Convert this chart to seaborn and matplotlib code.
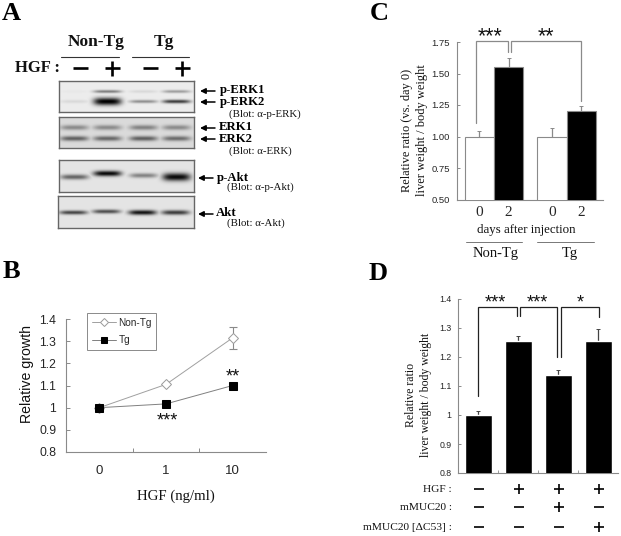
"""Four panel figure: western blots, growth curve and liver weight bars."""

import matplotlib

matplotlib.use("Agg")
import matplotlib.pyplot as plt
import numpy as np
import pandas as pd
import seaborn as sns

W, H = 621, 536
SERIF = "Liberation Serif"
SANS = "Liberation Sans"
GREY = "#8a8a8a"

# panel A: band darkness per lane, 0 = no band, 1 = black
lane_labels = ["-", "+", "-", "+"]
perk1 = [0.02, 0.45, 0.08, 0.32]
perk2 = [0.08, 1.00, 0.38, 0.72]
erk1 = [0.36, 0.36, 0.40, 0.36]
erk2 = [0.55, 0.52, 0.56, 0.50]
pakt = [0.55, 0.95, 0.42, 0.95]
akt = [0.68, 0.64, 0.90, 0.72]

# panel B
dose_labels = ["0", "1", "10"]
nontg_growth = [1.0, 1.105, 1.315]
nontg_err = [0.0, 0.0, 0.05]
tg_growth = [1.0, 1.017, 1.10]
tg_err = [0.01, 0.01, 0.012]

# panel C
days = ["0", "2", "0", "2"]
ratio_c = [1.00, 1.55, 1.00, 1.20]
err_c = [0.045, 0.07, 0.07, 0.04]

# panel D
ratio_d = [1.00, 1.255, 1.138, 1.255]
err_d = [0.015, 0.018, 0.016, 0.04]
hgf_signs = ["-", "+", "+", "+"]
muc_signs = ["-", "-", "+", "-"]
dc53_signs = ["-", "-", "-", "+"]


def add_axes_px(fig, left, top, right, bottom):
    """Add axes from a pixel box measured from the top left corner."""
    return fig.add_axes([left / W, 1 - bottom / H, (right - left) / W, (bottom - top) / H])


def blot_matrix(width, height, background, bands, lanes_x):
    """Build a grey image of a blot; bands is a list of (y, sigma, darkness per lane)."""
    xx, yy = np.meshgrid(np.arange(width), np.arange(height))
    ink = np.zeros((height, width))
    for y0, sigma, darkness in bands:
        ys = np.broadcast_to(y0, (4,))
        sigmas = np.broadcast_to(sigma, (4,))
        for x0, d, y_l, s_l in zip(lanes_x, darkness, ys, sigmas):
            shape = np.exp(-(((xx - x0) / 14.0) ** 4)) * np.exp(-(((yy - y_l) / s_l) ** 2))
            ink = np.maximum(ink, d * shape)
    return background * (1 - ink)


def draw_blot(fig, box, background, bands):
    ax = add_axes_px(fig, *box)
    width, height = box[2] - box[0], box[3] - box[1]
    lanes_x = [15, 48, 84, 117]
    img = blot_matrix(width, height, background, bands, lanes_x)
    sns.heatmap(img, cmap="gray", vmin=0, vmax=255, cbar=False, xticklabels=False,
                yticklabels=False, ax=ax)
    for s in ax.spines.values():
        s.set_visible(True)
        s.set_color("#666666")
        s.set_linewidth(1.0)
    return ax


def sign(ov, x, y, kind, half=7.5, lw=1.9):
    ov.plot([x - half, x + half], [y, y], color="black", lw=lw, solid_capstyle="butt")
    if kind == "+":
        ov.plot([x, x], [y - half, y + half], color="black", lw=lw, solid_capstyle="butt")


def arrow(ov, x0, x1, y):
    ov.annotate("", xy=(x1, y), xytext=(x0, y),
                arrowprops=dict(arrowstyle="-|>", color="black", lw=1.1, mutation_scale=8,
                                shrinkA=0, shrinkB=0))


def bracket(ov, xs, ys, color):
    ov.plot(xs, ys, color=color, lw=0.9, solid_joinstyle="miter")


def style_bar_axes(ax, ticks, fmt, size, pad):
    sns.despine(ax=ax)
    for side in ("left", "bottom"):
        ax.spines[side].set_color(GREY)
        ax.spines[side].set_linewidth(0.8)
    ax.set_yticks(ticks)
    ax.set_yticklabels([fmt(t) for t in ticks], fontsize=size, family=SANS)
    ax.tick_params(axis="y", length=2.5, width=0.7, color=GREY, direction="in", pad=pad, left=True)
    ax.set_xlabel("")
    ax.set_ylabel("")


sns.set_theme(style="white")
plt.rcParams["font.family"] = [SERIF, "DejaVu Sans"]

fig = plt.figure(figsize=(W / 100, H / 100), dpi=100)

# panel A
draw_blot(fig, (59, 81, 194, 112), 236, [(10, 1.6, perk1), (20, [1.8, 3.8, 1.7, 1.9], perk2)])
draw_blot(fig, (59, 117, 194, 148), 218, [(10, 2.6, erk1), (21, 2.5, erk2)])
draw_blot(fig, (59, 160, 194, 192), 228, [([16.5, 13, 15, 16.5], [2.6, 2.8, 2.4, 4.0], pakt)])
draw_blot(fig, (58, 196, 194, 228), 228, [([16, 15, 16, 16], [2.1, 2.1, 2.5, 2.4], akt)])

# panel B
ax_b = add_axes_px(fig, 66, 319, 266, 452)
growth = pd.DataFrame({
    "dose": dose_labels * 2,
    "growth": nontg_growth + tg_growth,
    "group": ["Non-Tg"] * 3 + ["Tg"] * 3,
})
sns.lineplot(data=growth[growth.group == "Non-Tg"], x="dose", y="growth", color="#a0a0a0", lw=0.7,
             marker="D", ms=4.8, mfc="white", mec="#9a9a9a", mew=0.7, label="Non-Tg",
             errorbar=None, ax=ax_b, zorder=3)
ax_b.errorbar(dose_labels, nontg_growth, yerr=nontg_err, fmt="none", ecolor="#8a8a8a", elinewidth=0.8,
              capsize=3, capthick=0.8, zorder=2)
sns.lineplot(data=growth[growth.group == "Tg"], x="dose", y="growth", color="#808080", lw=0.7,
             marker="s", ms=6.2, mfc="black", mec="black", label="Tg",
             errorbar=None, ax=ax_b, zorder=4)
ax_b.set_xlim(-0.5, 2.5)
ax_b.set_ylim(0.8, 1.4)
ax_b.set_yticks([0.8, 0.9, 1.0, 1.1, 1.2, 1.3, 1.4])
ax_b.set_yticklabels(["0.8", "0.9", "1", "1.1", "1.2", "1.3", "1.4"], fontsize=8.8, family=SANS)
ax_b.set_xticks([0, 1, 2])
ax_b.set_xticklabels(dose_labels, fontsize=9.5, family=SANS)
ax_b.set_xticks([0.5, 1.5], minor=True)
ax_b.tick_params(axis="x", which="major", length=0, pad=9)
ax_b.tick_params(axis="x", which="minor", length=3, width=0.7, color=GREY, direction="in", bottom=True)
ax_b.tick_params(axis="y", length=3, width=0.7, color=GREY, direction="in", pad=7, left=True)
ax_b.set_xlabel("")
ax_b.set_ylabel("")
sns.despine(ax=ax_b)
for side in ("left", "bottom"):
    ax_b.spines[side].set_color(GREY)
    ax_b.spines[side].set_linewidth(0.8)
leg = ax_b.legend(loc="upper left", bbox_to_anchor=(0.105, 1.045), borderaxespad=0, frameon=True,
                  fancybox=False, edgecolor=GREY, framealpha=1, prop={"family": SANS, "size": 7.2},
                  handlelength=2.4, labelspacing=0.75, borderpad=0.45, handletextpad=0.3)
leg.get_frame().set_linewidth(0.7)
for handle in leg.legend_handles:
    handle.set_markersize(4)

# panel C
bar_pos_c = [0, 1, 2.48, 3.48]
ax_c = add_axes_px(fig, 457, 42, 603, 199.5)
sns.barplot(x=bar_pos_c, y=ratio_c, native_scale=True, width=1, errorbar=None,
            palette=["white", "black", "white", "black"], hue=bar_pos_c, legend=False,
            edgecolor=GREY, linewidth=0.8, ax=ax_c, zorder=3)
ax_c.errorbar(bar_pos_c, ratio_c, yerr=[[0] * 4, err_c], fmt="none", ecolor=GREY, elinewidth=0.9,
              capsize=1.5, capthick=0.7, zorder=2)
ax_c.set_xlim((457 - 479.3) / 29.3, (603 - 479.3) / 29.3)
ax_c.set_ylim(0.5, 1.75)
style_bar_axes(ax_c, [0.5, 0.75, 1.0, 1.25, 1.5, 1.75], lambda t: f"{t:.2f}", 6.8, 5)
ax_c.set_xticks(bar_pos_c)
ax_c.set_xticklabels(days, fontsize=11, family=SERIF)
ax_c.tick_params(axis="x", length=0, pad=5)

# panel D
ax_d = add_axes_px(fig, 458, 299, 618, 473)
sns.barplot(x=list(range(4)), y=ratio_d, native_scale=True, width=0.68, errorbar=None,
            color="black", saturation=1, ax=ax_d, zorder=3)
ax_d.errorbar(list(range(4)), ratio_d, yerr=[[0] * 4, err_d], fmt="none", ecolor="#444444",
              elinewidth=0.9, capsize=1.5, capthick=0.7, zorder=2)
ax_d.set_xlim(-0.51, 3.49)
ax_d.set_ylim(0.8, 1.4)
style_bar_axes(ax_d, [0.8, 0.9, 1.0, 1.1, 1.2, 1.3, 1.4], lambda t: f"{t:g}", 6.3, 4.5)
ax_d.set_xticks([])
ax_d.set_xticks([0.5, 1.5, 2.5], minor=True)
ax_d.tick_params(axis="x", which="minor", length=2, width=0.6, color=GREY, direction="in", bottom=True)

# overlay in pixel coordinates for the figure's hand-placed labels
ov = fig.add_axes([0, 0, 1, 1], facecolor="none")
ov.set_xlim(0, W)
ov.set_ylim(H, 0)
ov.axis("off")


def label(x, y, s, size, ha="center", weight="normal", family=SERIF, rotation=0, color="#111111",
          linespacing=1.15):
    ov.text(x, y, s, fontsize=size, ha=ha, va="center", fontweight=weight, family=family,
            rotation=rotation, color=color, linespacing=linespacing)


for letter, x, y in [("A", 11, 14), ("B", 11, 271), ("C", 379, 14), ("D", 378, 273)]:
    label(x, y, letter, 19, weight="bold", color="black")

label(96, 42, "Non-Tg", 12.5, weight="bold")
label(164, 42, "Tg", 12.5, weight="bold")
ov.plot([61, 119], [56.5, 56.5], color="#333333", lw=0.8)
ov.plot([132, 189], [56.5, 56.5], color="#333333", lw=0.8)
label(15, 68, "HGF :", 12, ha="left", weight="bold")
for x, kind in zip([80, 112, 150, 182], lane_labels):
    sign(ov, x, 68, kind)

for y, s, x_end, x_text in [(91, "p-ERK1", 200, 220), (102, "p-ERK2", 200, 220), (128, "ERK1", 200, 219),
                            (139, "ERK2", 200, 219), (178, "p-Akt", 198, 217), (214, "Akt", 198, 216)]:
    arrow(ov, x_end + 15, x_end, y)
    label(x_text, y - 0.5, s, 9.2, ha="left", weight="bold", color="black")
for x, y, s in [(229, 114, "(Blot: α-p-ERK)"), (229, 151, "(Blot: α-ERK)"),
                (227, 187, "(Blot: α-p-Akt)"), (227, 223, "(Blot: α-Akt)")]:
    label(x, y, s, 7.8, ha="left")

label(27, 374, "Relative growth", 10.2, rotation=90, family=SANS)
label(176, 496, "HGF (ng/ml)", 10.7)
label(167, 421, "***", 13, family=SANS)
label(233, 377, "**", 13, family=SANS)

label(414.5, 130, "Relative ratio (vs. day 0)\nliver weight / body weight", 8.9, rotation=90,
      linespacing=1.3)
label(526, 230, "days after injection", 9.3)
ov.plot([466, 522], [242, 242], color="#777777", lw=0.7)
ov.plot([537, 594], [242, 242], color="#777777", lw=0.7)
label(496, 254, "Non-Tg", 10.5)
label(570, 254, "Tg", 10.5)
bracket(ov, [476, 476, 507.7, 507.7], [123, 40.5, 40.5, 52], GREY)
bracket(ov, [511, 511, 581, 581], [52, 40.5, 40.5, 101], GREY)
label(490, 37, "***", 15.5, family=SANS)
label(546, 37, "**", 15.5, family=SANS)

label(418.5, 395, "Relative ratio\nliver weight / body weight", 8.5, rotation=90, linespacing=1.3)
bracket(ov, [478, 478, 517, 517], [396, 307, 307, 316], "#222222")
bracket(ov, [520, 520, 557, 557], [316, 307, 307, 357], "#222222")
bracket(ov, [560.7, 560.7, 599, 599], [357, 307, 307, 317], "#222222")
label(495, 303, "***", 13, family=SANS)
label(537, 303, "***", 13, family=SANS)
label(580, 303, "*", 13, family=SANS)

for y, s, signs in [(489, "HGF :", hgf_signs), (507, "mMUC20 :", muc_signs),
                    (527, "mMUC20 [ΔC53] :", dc53_signs)]:
    label(452, y, s, 8.2, ha="right")
    for x, kind in zip([478.5, 518.5, 558.5, 598.5], signs):
        sign(ov, x, y, kind, half=5, lw=1.2)

fig.savefig("out.png", dpi=100)
plt.close(fig)
